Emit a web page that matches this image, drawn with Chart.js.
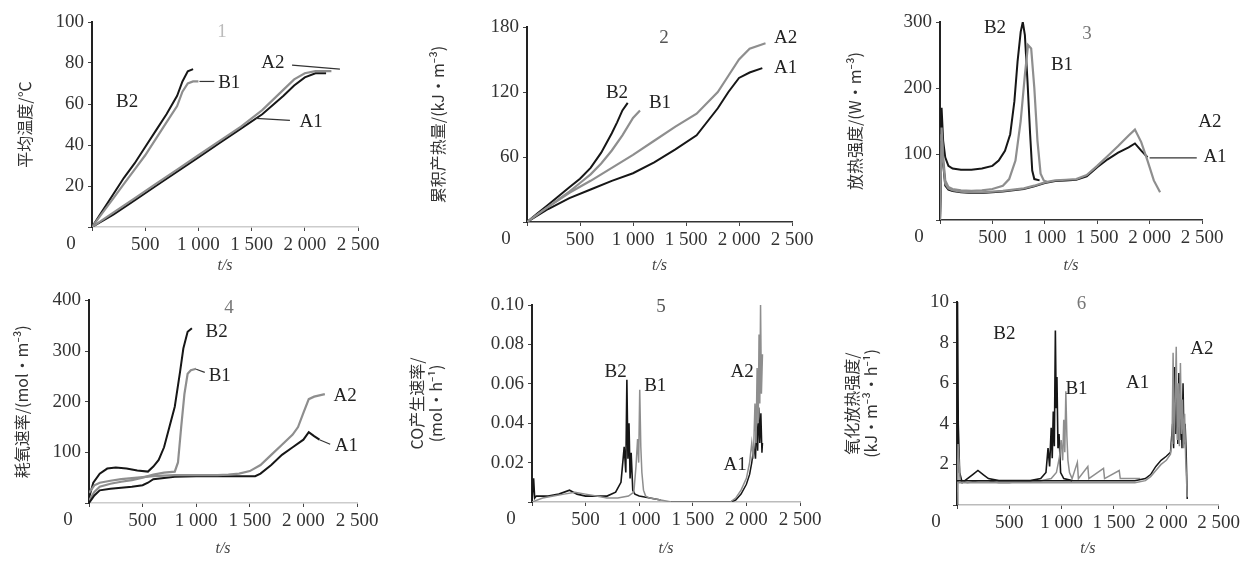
<!DOCTYPE html>
<html>
<head>
<meta charset="utf-8">
<script src="https://cdn.jsdelivr.net/npm/chart.js"></script>
<style>
  body { margin: 0; background: #fff; width: 1243px; height: 569px; position: relative; overflow: hidden; }
  canvas { position: absolute; }
</style>
</head>
<body>
<canvas id="p1" width="405" height="285" style="left:0;top:0"></canvas>
<canvas id="p2" width="420" height="285" style="left:410px;top:0"></canvas>
<canvas id="p3" width="413" height="285" style="left:830px;top:0"></canvas>
<canvas id="p4" width="405" height="284" style="left:0;top:285px"></canvas>
<canvas id="p5" width="425" height="284" style="left:405px;top:285px"></canvas>
<canvas id="p6" width="413" height="284" style="left:830px;top:285px"></canvas>
<script>
// x axis (time) shared by every panel
const xTickLabels = ['500', '1 000', '1 500', '2 000', '2 500'];

// panel 1
const p1B2t = [0, 100, 200, 300, 400, 500, 600, 700, 800, 850, 900, 950];
const p1B2  = [0, 8, 16, 24, 31, 39, 47, 55, 64, 71, 76, 77];
const p1B1t = [0, 100, 200, 300, 400, 500, 600, 700, 800, 850, 900, 950, 1000];
const p1B1  = [0, 7, 14, 21, 28, 35, 43, 51, 59, 66, 70, 71, 71];
const p1A2t = [0, 200, 400, 600, 800, 1000, 1200, 1400, 1600, 1800, 1900, 2000, 2100, 2250];
const p1A2  = [0, 7, 14, 21, 28, 35, 42, 49, 57, 67, 72, 75, 76, 76];
const p1A1t = [0, 200, 400, 600, 800, 1000, 1200, 1400, 1600, 1800, 1900, 2000, 2100, 2200];
const p1A1  = [0, 6, 13, 20, 27, 34, 41, 48, 55, 64, 69, 73, 75, 75];

// panel 2
const p2B2t = [0, 100, 200, 300, 400, 500, 600, 700, 800, 850, 900, 950];
const p2B2  = [0, 8, 16, 24, 32, 40, 50, 64, 82, 92, 103, 110];
const p2B1t = [0, 100, 200, 300, 400, 500, 600, 700, 800, 900, 1000, 1066];
const p2B1  = [0, 7, 14, 21, 28, 36, 44, 54, 66, 80, 96, 103];
const p2A2t = [0, 200, 400, 600, 800, 1000, 1200, 1400, 1600, 1800, 1900, 2000, 2100, 2250];
const p2A2  = [0, 14, 27, 38, 50, 62, 75, 88, 100, 120, 135, 150, 160, 165];
const p2A1t = [0, 200, 400, 600, 800, 1000, 1200, 1400, 1600, 1800, 1900, 2000, 2100, 2220];
const p2A1  = [0, 12, 22, 30, 38, 45, 55, 67, 80, 105, 120, 133, 138, 142];

// panel 3
const p3B2t = [0, 15, 30, 50, 80, 120, 200, 300, 400, 500, 560, 620, 670, 710, 740, 770, 790, 810, 835, 860, 880, 900, 950];
const p3B2  = [0, 170, 120, 95, 82, 78, 76, 76, 78, 82, 90, 105, 130, 180, 240, 285, 300, 280, 210, 130, 75, 62, 60];
const p3B1t = [0, 15, 30, 50, 80, 120, 200, 300, 400, 500, 600, 660, 720, 770, 810, 840, 870, 900, 930, 960, 990, 1020];
const p3B1  = [0, 140, 95, 60, 50, 47, 45, 44, 45, 47, 52, 62, 90, 150, 220, 265, 260, 200, 120, 70, 60, 58];
const p3A2t = [0, 15, 30, 50, 80, 120, 200, 300, 400, 500, 600, 700, 800, 900, 1000, 1100, 1200, 1300, 1400, 1500, 1600, 1700, 1800, 1860, 1920, 1980, 2040, 2100];
const p3A2  = [0, 130, 90, 55, 48, 45, 43, 42, 42, 43, 44, 46, 48, 52, 57, 60, 61, 62, 68, 82, 97, 112, 128, 137, 118, 90, 60, 42];
const p3A1t = [0, 15, 30, 50, 80, 120, 200, 300, 400, 500, 600, 700, 800, 900, 1000, 1100, 1200, 1300, 1400, 1500, 1600, 1700, 1800, 1860, 1920, 1980];
const p3A1  = [0, 120, 85, 52, 46, 44, 42, 41, 41, 42, 43, 45, 47, 51, 56, 59, 60, 61, 66, 80, 92, 102, 110, 116, 105, 95];

// panel 4
const p4B2t = [0, 40, 100, 170, 250, 350, 450, 550, 600, 650, 700, 750, 800, 850, 880, 920, 960];
const p4B2  = [10, 40, 58, 68, 70, 68, 64, 62, 72, 85, 110, 150, 190, 260, 305, 338, 345];
const p4B1t = [0, 50, 100, 200, 300, 400, 500, 600, 700, 800, 830, 860, 890, 920, 950, 1000];
const p4B1  = [5, 22, 32, 38, 42, 45, 50, 56, 60, 62, 80, 150, 215, 255, 262, 265];
const p4A2t = [0, 50, 100, 200, 300, 400, 500, 600, 800, 1000, 1200, 1300, 1400, 1500, 1600, 1700, 1800, 1900, 1950, 2000, 2050, 2100, 2200];
const p4A2  = [20, 35, 40, 44, 47, 49, 51, 53, 55, 55, 55, 56, 58, 63, 75, 95, 115, 135, 150, 178, 205, 210, 215];
const p4A1t = [0, 50, 100, 200, 300, 400, 500, 550, 600, 800, 1000, 1200, 1400, 1550, 1600, 1700, 1800, 1900, 2000, 2050, 2100, 2150];
const p4A1  = [0, 15, 25, 28, 30, 32, 35, 40, 47, 52, 53, 53, 53, 53, 58, 75, 95, 110, 125, 140, 132, 125];

// panel 5
const p5B2t = [0, 15, 25, 40, 80, 150, 250, 350, 420, 500, 600, 700, 780, 830, 860, 875, 885, 895, 905, 915, 925, 940, 960, 1000, 1100, 1200];
const p5B2  = [0, 0.012, 0.002, 0.003, 0.003, 0.003, 0.004, 0.006, 0.004, 0.003, 0.003, 0.003, 0.005, 0.01, 0.028, 0.015, 0.062, 0.022, 0.04, 0.012, 0.025, 0.006, 0.004, 0.003, 0.002, 0.001];
const p5B1t = [0, 100, 200, 300, 400, 500, 600, 700, 800, 900, 950, 970, 985, 995, 1005, 1015, 1025, 1040, 1060, 1100, 1200, 1300];
const p5B1  = [0, 0.002, 0.003, 0.004, 0.005, 0.004, 0.003, 0.002, 0.002, 0.003, 0.005, 0.018, 0.032, 0.02, 0.057, 0.028, 0.015, 0.006, 0.003, 0.002, 0.001, 0];
const p5A2t = [1300, 1500, 1700, 1850, 1900, 1950, 2000, 2030, 2050, 2065, 2080, 2090, 2100, 2110, 2118, 2125, 2132, 2140, 2150];
const p5A2  = [0, 0, 0, 0, 0.002, 0.006, 0.012, 0.02, 0.03, 0.022, 0.05, 0.03, 0.068, 0.04, 0.085, 0.05, 0.1, 0.055, 0.075];
const p5A1t = [1300, 1500, 1700, 1850, 1900, 1950, 2000, 2030, 2050, 2070, 2085, 2095, 2105, 2115, 2125, 2135, 2145, 2150];
const p5A1  = [0, 0, 0, 0, 0.001, 0.004, 0.009, 0.014, 0.02, 0.028, 0.022, 0.04, 0.026, 0.048, 0.03, 0.045, 0.025, 0.03];

// panel 6
const p6B2t = [0, 5, 12, 25, 50, 100, 150, 200, 250, 300, 400, 500, 600, 700, 800, 850, 870, 885, 900, 910, 920, 930, 940, 948, 955, 965, 975, 990, 1020, 1100];
const p6B2  = [0, 10, 4, 1.6, 1.1, 1.3, 1.5, 1.7, 1.5, 1.3, 1.2, 1.2, 1.2, 1.2, 1.3, 1.6, 2.8, 1.9, 3.8, 2.3, 4.6, 2.9, 8.6, 4.8, 6.3, 2.8, 3.5, 1.6, 1.3, 1.2];
const p6B1t = [0, 10, 30, 100, 200, 300, 400, 500, 600, 700, 800, 900, 950, 980, 995, 1010, 1020, 1030, 1040, 1050, 1060, 1075, 1100, 1150, 1160, 1250, 1260, 1400, 1410, 1550, 1560, 1750];
const p6B1  = [0, 3, 1.2, 1.1, 1.2, 1.2, 1.1, 1.1, 1.2, 1.2, 1.2, 1.3, 1.6, 2.4, 3.2, 2.2, 4.2, 2.6, 5.6, 3.4, 2.2, 1.6, 1.3, 2.1, 1.3, 1.9, 1.3, 1.8, 1.3, 1.7, 1.3, 1.3];
const p6A1t = [0, 300, 600, 900, 1200, 1500, 1700, 1800, 1850, 1900, 1950, 2000, 2040, 2060, 2070, 2080, 2090, 2100, 2110, 2120, 2130, 2140, 2150, 2160, 2170, 2180, 2190, 2200];
const p6A1  = [1.2, 1.2, 1.2, 1.2, 1.2, 1.2, 1.2, 1.3, 1.5, 1.9, 2.2, 2.4, 2.6, 4.0, 2.8, 6.8, 3.5, 5.5, 3.0, 6.5, 3.2, 4.8, 2.8, 6.0, 3.0, 4.0, 2.6, 0.3];
const p6A2t = [0, 300, 600, 900, 1200, 1500, 1700, 1800, 1850, 1900, 1950, 2000, 2040, 2055, 2065, 2075, 2085, 2095, 2105, 2115, 2125, 2135, 2145, 2155, 2165, 2175, 2185, 2200];
const p6A2  = [1.1, 1.1, 1.1, 1.1, 1.1, 1.1, 1.1, 1.2, 1.4, 1.7, 2.0, 2.2, 2.5, 3.2, 7.5, 3.0, 5.0, 7.8, 3.2, 6.0, 2.9, 7.0, 3.5, 5.2, 2.8, 4.5, 2.3, 0.4];

const DARK = '#161616';
const GREY = '#8e8e8e';
const SERIF = '"Liberation Serif", "DejaVu Serif", serif';
const CJK = '"Noto Sans CJK SC", "Noto Sans", sans-serif';

function pts(xs, ys) {
  return xs.map((x, i) => ({ x: x, y: ys[i] }));
}

function line(xs, ys, color, width) {
  return {
    data: pts(xs, ys),
    borderColor: color,
    borderWidth: width,
    pointRadius: 0,
    showLine: true,
    fill: false,
    tension: 0
  };
}

// curve names, panel numbers and the lone "0" under the origin
const panelText = {
  id: 'panelText',
  afterDatasetsDraw(chart, args, opts) {
    const { ctx, chartArea } = chart;
    const xs = chart.scales.x, ys = chart.scales.y;
    ctx.save();
    ctx.strokeStyle = '#333';
    ctx.lineWidth = 1.2;
    ctx.textBaseline = 'middle';
    (opts.labels || []).forEach(l => {
      if (l.line) {
        ctx.beginPath();
        ctx.moveTo(xs.getPixelForValue(l.line[0]), ys.getPixelForValue(l.line[1]));
        ctx.lineTo(xs.getPixelForValue(l.line[2]), ys.getPixelForValue(l.line[3]));
        ctx.stroke();
      }
      ctx.font = '19px ' + SERIF;
      ctx.fillStyle = l.color || '#222';
      ctx.textAlign = 'center';
      ctx.fillText(l.text, xs.getPixelForValue(l.x), ys.getPixelForValue(l.y));
    });
    ctx.font = '19px ' + SERIF;
    ctx.fillStyle = '#333';
    ctx.textAlign = 'center';
    ctx.fillText('0', chartArea.left - 21, chartArea.bottom + 17);
    ctx.restore();
  }
};

function makePanel(id, p) {
  new Chart(document.getElementById(id), {
    type: 'scatter',
    data: { datasets: p.datasets },
    plugins: [panelText],
    options: {
      responsive: false,
      animation: false,
      layout: { padding: { top: p.padTop, right: p.padRight, left: 0, bottom: 0 } },
      plugins: {
        legend: { display: false },
        tooltip: { enabled: false },
        panelText: { labels: p.labels }
      },
      scales: {
        x: {
          type: 'linear',
          min: 0, max: 2500,
          afterFit(s) { s.height = p.xH; },
          border: { color: p.xAxisColor || '#333', width: 1.5 },
          grid: { drawOnChartArea: false, tickLength: 4, color: '#444' },
          ticks: {
            stepSize: 500, autoSkip: false, maxRotation: 0, padding: 3,
            color: '#333', font: { family: SERIF, size: 19 },
            callback: v => (v === 0 ? '' : xTickLabels[v / 500 - 1])
          },
          title: {
            display: true, text: 't/s', color: '#444',
            font: { family: SERIF, size: 16, style: 'italic' },
            padding: p.xTitlePad
          }
        },
        y: {
          min: 0, max: p.yMax,
          afterFit(s) { s.width = p.yW; },
          border: { color: '#222', width: 2 },
          grid: { drawOnChartArea: false, tickLength: 4, color: '#444' },
          ticks: {
            stepSize: p.yStep, padding: 4, color: '#333',
            font: { family: SERIF, size: 19 },
            callback: v => (v === 0 ? '' : (p.yDec ? v.toFixed(p.yDec) : String(Math.round(v))))
          },
          title: {
            display: true, text: p.yTitle, color: '#333',
            font: { family: CJK, size: 16 },
            padding: p.yTitlePad
          }
        }
      }
    }
  });
}

makePanel('p1', {
  datasets: [
    line(p1A2t, p1A2, GREY, 2.2), line(p1A1t, p1A1, DARK, 2),
    line(p1B1t, p1B1, GREY, 2.2), line(p1B2t, p1B2, DARK, 2)
  ],
  yMax: 100, yStep: 20, yTitle: '平均温度/℃',
  yW: 92, xH: 58, padTop: 22, padRight: 47, yTitlePad: 15, xTitlePad: 10,
  xAxisColor: '#ccc',
  labels: [
    { text: 'B2', x: 330, y: 61 },
    { text: 'B1', x: 1290, y: 70, line: [1010, 71, 1150, 71] },
    { text: 'A2', x: 1700, y: 80, line: [1880, 79, 2330, 77] },
    { text: 'A1', x: 2060, y: 51, line: [1540, 53, 1860, 52] },
    { text: '1', x: 1222, y: 95, color: '#bbb' }
  ]
});

makePanel('p2', {
  datasets: [
    line(p2A2t, p2A2, GREY, 2.2), line(p2A1t, p2A1, DARK, 2),
    line(p2B1t, p2B1, GREY, 2.2), line(p2B2t, p2B2, DARK, 2)
  ],
  yMax: 180, yStep: 60, yTitle: '累积产热量/(kJ·m⁻³)',
  yW: 117, xH: 63, padTop: 27, padRight: 38, yTitlePad: 18, xTitlePad: 10,
  labels: [
    { text: 'B2', x: 849, y: 119 },
    { text: 'B1', x: 1255, y: 110 },
    { text: 'A2', x: 2440, y: 170 },
    { text: 'A1', x: 2440, y: 142 },
    { text: '2', x: 1292, y: 170, color: '#555' }
  ]
});

makePanel('p3', {
  datasets: [
    line(p3A2t, p3A2, GREY, 2.2), line(p3A1t, p3A1, DARK, 2),
    line(p3B1t, p3B1, GREY, 2.2), line(p3B2t, p3B2, DARK, 2)
  ],
  yMax: 300, yStep: 100, yTitle: '放热强度/(W·m⁻³)',
  yW: 110, xH: 65, padTop: 22, padRight: 41, yTitlePad: 15, xTitlePad: 10,
  labels: [
    { text: 'B2', x: 525, y: 291 },
    { text: 'B1', x: 1164, y: 235 },
    { text: 'A2', x: 2576, y: 148 },
    { text: 'A1', x: 2624, y: 95, line: [2000, 94, 2450, 94] },
    { text: '3', x: 1403, y: 282, color: '#777' }
  ]
});

makePanel('p4', {
  datasets: [
    line(p4A2t, p4A2, GREY, 2.2), line(p4A1t, p4A1, DARK, 2),
    line(p4B1t, p4B1, GREY, 2.2), line(p4B2t, p4B2, DARK, 2)
  ],
  yMax: 400, yStep: 100, yTitle: '耗氧速率/(mol·m⁻³)',
  yW: 89, xH: 66, padTop: 15, padRight: 48, yTitlePad: 12, xTitlePad: 11,
  xAxisColor: '#ccc',
  labels: [
    { text: 'B2', x: 1190, y: 338 },
    { text: 'B1', x: 1220, y: 250, line: [1000, 264, 1080, 258] },
    { text: 'A2', x: 2390, y: 211 },
    { text: 'A1', x: 2400, y: 112, line: [2150, 125, 2250, 116] },
    { text: '4', x: 1306, y: 385, color: '#777' }
  ]
});

makePanel('p5', {
  datasets: [
    line(p5A2t, p5A2, GREY, 1.5), line(p5A1t, p5A1, DARK, 1.5),
    line(p5B1t, p5B1, GREY, 1.5), line(p5B2t, p5B2, DARK, 1.6)
  ],
  yMax: 0.1, yStep: 0.02, yDec: 2, yTitle: ['CO产生速率/', '(mol·h⁻¹)'],
  yW: 127, xH: 67, padTop: 20, padRight: 30, yTitlePad: 2, xTitlePad: 11,
  xAxisColor: '#bbb',
  labels: [
    { text: 'B2', x: 780, y: 0.066 },
    { text: 'B1', x: 1150, y: 0.059 },
    { text: 'A2', x: 1960, y: 0.066 },
    { text: 'A1', x: 1895, y: 0.019 },
    { text: '5', x: 1203, y: 0.099, color: '#555' }
  ]
});

makePanel('p6', {
  datasets: [
    line(p6A2t, p6A2, GREY, 1.5), line(p6A1t, p6A1, DARK, 1.5),
    line(p6B1t, p6B1, GREY, 1.5), line(p6B2t, p6B2, DARK, 1.6)
  ],
  yMax: 10, yStep: 2, yTitle: ['氧化放热强度/', '(kJ·m⁻³·h⁻¹)'],
  yW: 127, xH: 64, padTop: 17, padRight: 21, yTitlePad: 12, xTitlePad: 11,
  xAxisColor: '#bbb',
  labels: [
    { text: 'B2', x: 453, y: 8.4 },
    { text: 'B1', x: 1142, y: 5.7 },
    { text: 'A1', x: 1726, y: 6.0 },
    { text: 'A2', x: 2340, y: 7.7 },
    { text: '6', x: 1189, y: 9.9, color: '#777' }
  ]
});
</script>
</body>
</html>
